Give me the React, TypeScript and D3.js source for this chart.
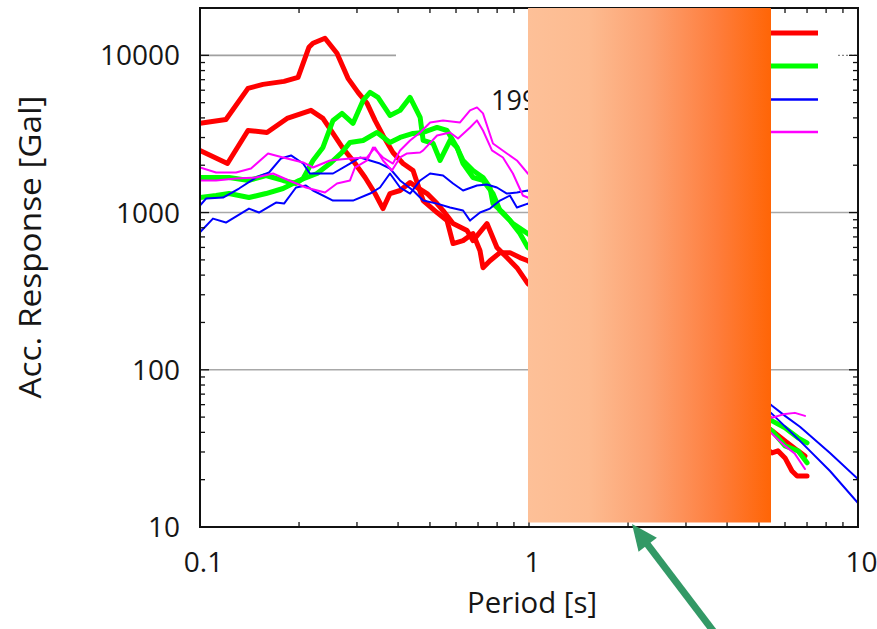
import React from 'react';
import * as d3 from 'd3';

const W = 877;
const H = 629;
const PL = 200, PR = 858, PT = 8, PB = 527;

const xTickValues = [0.1, 1, 10];
const xTickLabels = ['0.1', '1', '10'];
const yTickValues = [10, 100, 1000, 10000];
const yTickLabels = ['10', '100', '1000', '10000'];
const xLabel = 'Period [s]';
const yLabel = 'Acc. Response [Gal]';
const titleText = '1995';

type P = [number, number];

const red1: P[] = [
  [0.1, 3690], [0.1199, 3911], [0.1399, 6166], [0.1554, 6537], [0.1801, 6831], [0.1986, 7245],
  [0.2143, 11245], [0.2205, 11925], [0.2398, 12830], [0.2608, 10300], [0.2817, 7138], [0.3022, 5811],
  [0.322, 4947], [0.3404, 3855], [0.3599, 3093], [0.3859, 2411], [0.4142, 2050], [0.4442, 1851],
  [0.4767, 1192], [0.5255, 1000], [0.5635, 889], [0.5877, 635], [0.6303, 663], [0.6759, 735],
  [0.7097, 572], [0.7247, 446], [0.761, 494], [0.816, 556], [0.875, 556], [0.9383, 517], [0.9918, 494],
  [5.48, 40.9], [6.0, 35.3], [6.57, 30.5], [6.9, 28.3],
];
const red2: P[] = [
  [0.1, 2484], [0.1212, 2050], [0.1399, 3326], [0.1598, 3233], [0.1839, 3969], [0.2174, 4466],
  [0.2364, 3969], [0.2537, 3186], [0.272, 2556], [0.2917, 2144], [0.3176, 1671], [0.3404, 1321],
  [0.3599, 1060], [0.3779, 1321], [0.4056, 1381], [0.435, 1553], [0.4571, 1443], [0.4901, 1321],
  [0.5255, 1140], [0.548, 1030], [0.5877, 851], [0.6481, 768], [0.6759, 663], [0.7452, 851],
  [0.799, 599], [0.8568, 517], [0.9188, 446], [0.9918, 353],
  [5.48, 29.6], [5.71, 30.5], [6.0, 27.5], [6.3, 22.7], [6.53, 21.1], [7.0, 21.1],
];
const green1: P[] = [
  [0.1, 1671], [0.1225, 1671], [0.1409, 1600], [0.1587, 1721], [0.1788, 1600], [0.1958, 1530],
  [0.2058, 1646], [0.2205, 2144], [0.2364, 2594], [0.2537, 3855], [0.2701, 4272], [0.2917, 3690],
  [0.3131, 5166], [0.3288, 5811], [0.3476, 5401], [0.3779, 4148], [0.4056, 4466], [0.435, 5401],
  [0.4668, 4029], [0.4767, 2874], [0.5111, 2751], [0.5367, 2144], [0.5754, 2874], [0.6043, 2594],
  [0.6303, 2050], [0.6759, 1671], [0.7247, 1600], [0.7771, 1321], [0.816, 1030], [0.875, 889],
  [0.9383, 735], [0.9918, 599],
  [5.48, 47.3], [6.0, 42.7], [6.57, 36.9], [7.0, 34.3],
];
const green2: P[] = [
  [0.1, 1246], [0.1119, 1283], [0.1225, 1321], [0.1409, 1246], [0.1587, 1321], [0.1788, 1422],
  [0.2, 1600], [0.2268, 1772], [0.2483, 2050], [0.2683, 2376], [0.2857, 2792], [0.3131, 2874],
  [0.3452, 3233], [0.3779, 2792], [0.4056, 3003], [0.4442, 3186], [0.4767, 3233], [0.5255, 3478],
  [0.5635, 3326], [0.6043, 2594], [0.6303, 2144], [0.6759, 1851], [0.7247, 1671], [0.761, 1443],
  [0.7771, 1140], [0.8333, 1000], [0.8935, 851], [0.9918, 735],
  [5.48, 40.9], [6.0, 32.8], [6.57, 30.5], [7.0, 25.6],
];
const blue1: P[] = [
  [0.1, 1108], [0.1043, 1228], [0.1175, 1246], [0.1314, 1422], [0.148, 1671], [0.1621, 1798],
  [0.1763, 2208], [0.1891, 2308], [0.2058, 2050], [0.2157, 1772], [0.2537, 1772], [0.2857, 2050],
  [0.3065, 2240], [0.3288, 2144], [0.3524, 2050], [0.3779, 1906], [0.4056, 1600], [0.4442, 1381],
  [0.4767, 1192], [0.5255, 1140], [0.5754, 1076], [0.6303, 1030], [0.6619, 889], [0.7097, 1000],
  [0.761, 1060], [0.816, 1192], [0.875, 1283], [0.9188, 1076], [0.9918, 1140],
  [5.48, 59.0], [6.0, 50.9], [6.66, 43.4], [8.22, 29.6], [10, 20.2],
];
const blue2: P[] = [
  [0.1, 750], [0.1095, 915], [0.1199, 864], [0.1409, 1060], [0.1511, 1000], [0.1702, 1158],
  [0.1801, 1140], [0.1958, 1443], [0.2099, 1486], [0.2205, 1381], [0.2537, 1192], [0.2917, 1192],
  [0.3288, 1321], [0.3524, 1443], [0.3779, 1772], [0.4056, 1443], [0.435, 1321], [0.4668, 1600],
  [0.5005, 1772], [0.548, 1721], [0.5877, 1530], [0.6303, 1381], [0.6949, 1486], [0.7452, 1508],
  [0.799, 1443], [0.8568, 1321], [0.9188, 1341], [0.9918, 1381],
  [5.48, 52.4], [6.66, 35.3], [8.22, 22.7], [10, 14.2],
];
const magenta1: P[] = [
  [0.1, 1934], [0.1119, 1798], [0.1287, 1798], [0.1429, 1906], [0.161, 2376], [0.1788, 2240],
  [0.2058, 2082], [0.2205, 1934], [0.2483, 2144], [0.2857, 2208], [0.322, 2240], [0.3404, 2594],
  [0.3599, 2144], [0.3832, 1851], [0.4056, 2240], [0.4261, 2376], [0.4668, 2411], [0.4767, 2484],
  [0.5255, 3093], [0.5754, 3233], [0.6086, 2959], [0.6619, 3478], [0.6949, 3855], [0.7247, 3326],
  [0.7717, 2484], [0.8333, 2240], [0.8935, 1772], [0.9582, 1283], [0.9918, 1246],
  [5.48, 39.1], [6.0, 32.8], [6.43, 29.2], [6.9, 23.4],
];
const magenta2: P[] = [
  [0.1, 1600], [0.1119, 1600], [0.1287, 1646], [0.148, 1671], [0.1667, 1772], [0.1865, 1600],
  [0.2099, 1443], [0.2398, 1341], [0.2608, 1530], [0.2857, 1600], [0.2958, 1934], [0.322, 2144],
  [0.3357, 2594], [0.3599, 2240], [0.3859, 2050], [0.4056, 2484], [0.435, 2874], [0.4668, 3233],
  [0.5005, 3743], [0.548, 3855], [0.6172, 3743], [0.6619, 4466], [0.6949, 4665], [0.7247, 4272],
  [0.7771, 2751], [0.8568, 2376], [0.9188, 2144], [0.9918, 1772],
  [5.48, 49.5], [6.0, 52.4], [6.43, 53.2], [6.9, 50.9],
];

const seriesColors = ['#ff0000', '#ff0000', '#00ff00', '#00ff00', '#0000ff', '#0000ff', '#ff00ff', '#ff00ff'];
const seriesWidths = [5, 5, 5, 5, 2, 2, 2, 2];
const seriesData = [red1, red2, green1, green2, blue1, blue2, magenta1, magenta2];
const legendColors = ['#ff0000', '#00ff00', '#0000ff', '#ff00ff'];
const legendWidths = [5, 5, 2.5, 2.5];

const FONT = '"Open Sans", "DejaVu Sans", sans-serif';

export default function App() {
  const x = d3.scaleLog().domain([0.1, 10]).range([PL, PR]);
  const y = d3.scaleLog().domain([10, 20000]).range([PB, PT]);
  const line = d3.line<P>().x((d) => x(d[0])).y((d) => y(d[1]));

  const xMinor: number[] = [];
  [0.1, 1].forEach((b) => { for (let k = 2; k <= 9; k++) xMinor.push(b * k); });
  const yMinor: number[] = [];
  [10, 100, 1000].forEach((b) => { for (let k = 2; k <= 9; k++) yMinor.push(b * k); });

  // arrow geometry
  const tip: P = [632, 524];
  const tail: P = [714, 632];
  const dx = tip[0] - tail[0], dy = tip[1] - tail[1];
  const len = Math.hypot(dx, dy);
  const ux = dx / len, uy = dy / len;
  const headLen = 26, headHalf = 11.5;
  const base: P = [tip[0] - ux * headLen, tip[1] - uy * headLen];
  const px = -uy, py = ux;
  const headPts = [tip, [base[0] + px * headHalf, base[1] + py * headHalf], [base[0] - px * headHalf, base[1] - py * headHalf]];

  const legendY = [33, 66, 99.5, 132];

  return (
    <svg width={W} height={H} style={{ position: 'absolute', left: 0, top: 0, background: '#ffffff' }} fontFamily={FONT}>
      <defs>
        <clipPath id="plotClip">
          <rect x={PL} y={PT} width={PR - PL} height={PB - PT} />
        </clipPath>
        <linearGradient id="orangeGrad" x1="0" x2="1" y1="0" y2="0">
          <stop offset="0" stopColor="#fdc098" />
          <stop offset="0.25" stopColor="#fdbb90" />
          <stop offset="0.5" stopColor="#fca272" />
          <stop offset="0.78" stopColor="#fe7d3c" />
          <stop offset="1" stopColor="#ff6506" />
        </linearGradient>
      </defs>
      <rect x={0} y={0} width={W} height={H} fill="#ffffff" />

      {/* grid lines */}
      <line x1={PL} x2={PR} y1={y(1000)} y2={y(1000)} stroke="#a8a8a8" strokeWidth={1.6} />
      <line x1={PL} x2={PR} y1={y(100)} y2={y(100)} stroke="#a8a8a8" strokeWidth={1.6} />
      <line x1={PL} x2={396} y1={y(10000)} y2={y(10000)} stroke="#a0a0a0" strokeWidth={1.6} />
      <line x1={838} x2={856} y1={y(10000)} y2={y(10000)} stroke="#888" strokeWidth={1.2} strokeDasharray="2,2" />

      {/* data */}
      <g clipPath="url(#plotClip)">
        {seriesData.map((d, i) => (
          <path key={i} d={line(d) || ''} fill="none" stroke={seriesColors[i]} strokeWidth={seriesWidths[i]}
            strokeLinejoin="round" strokeLinecap="round" />
        ))}
      </g>

      {/* border */}
      <rect x={PL} y={PT} width={PR - PL} height={PB - PT} fill="none" stroke="#111" strokeWidth={2} />

      {/* ticks */}
      <g stroke="#111" strokeWidth={1.3}>
        {xMinor.map((v, i) => (
          <g key={'xm' + i}>
            <line x1={x(v)} x2={x(v)} y1={PB} y2={PB - 5} />
            <line x1={x(v)} x2={x(v)} y1={PT} y2={PT + 5} />
          </g>
        ))}
        {xTickValues.map((v, i) => (
          <g key={'xM' + i}>
            <line x1={x(v)} x2={x(v)} y1={PB} y2={PB - 9} />
            <line x1={x(v)} x2={x(v)} y1={PT} y2={PT + 9} />
          </g>
        ))}
        {yMinor.map((v, i) => (
          <g key={'ym' + i}>
            <line x1={PL} x2={PL + 5} y1={y(v)} y2={y(v)} />
            <line x1={PR} x2={PR - 5} y1={y(v)} y2={y(v)} />
          </g>
        ))}
        {yTickValues.map((v, i) => (
          <g key={'yM' + i}>
            <line x1={PL} x2={PL + 9} y1={y(v)} y2={y(v)} />
            <line x1={PR} x2={PR - 9} y1={y(v)} y2={y(v)} />
          </g>
        ))}
      </g>

      {/* tick labels */}
      <g fill="#161616">
        {yTickValues.map((v, i) => (
          <text key={'yl' + i} x={180} y={y(v)} dy="0.36em" textAnchor="end" fontSize={28}>{yTickLabels[i]}</text>
        ))}
        {xTickValues.map((v, i) => (
          <text key={'xl' + i} x={x(v) + 3.5} y={572} textAnchor="middle" fontSize={28}>{xTickLabels[i]}</text>
        ))}
        <text x={532} y={613} textAnchor="middle" fontSize={30} textLength={130} lengthAdjust="spacingAndGlyphs">{xLabel}</text>
        <text transform={`translate(41, 247) rotate(-90)`} textAnchor="middle" fontSize={31}
          textLength={303} lengthAdjust="spacingAndGlyphs">{yLabel}</text>
        <text x={491} y={110} fontSize={27}>{titleText}</text>
      </g>

      {/* legend samples */}
      {legendColors.map((c, i) => (
        <line key={'lg' + i} x1={740} x2={818} y1={legendY[i]} y2={legendY[i]} stroke={c} strokeWidth={legendWidths[i]} />
      ))}

      {/* overlay rectangle */}
      <rect x={528} y={8} width={243} height={514.5} fill="url(#orangeGrad)" />

      {/* arrow */}
      <line x1={tail[0]} y1={tail[1]} x2={base[0] + ux * 2} y2={base[1] + uy * 2} stroke="#339966" strokeWidth={7} />
      <polygon points={headPts.map((p) => p.join(',')).join(' ')} fill="#339966" />
    </svg>
  );
}
